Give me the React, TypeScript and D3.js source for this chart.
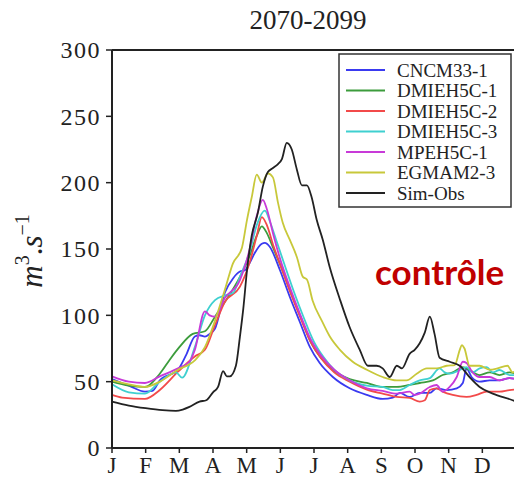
import React from "react";
import * as d3 from "d3";

const monthLabels = ["J", "F", "M", "A", "M", "J", "J", "A", "S", "O", "N", "D"];
const yTicks = [0, 50, 100, 150, 200, 250, 300];
const seriesNames = ["CNCM33-1", "DMIEH5C-1", "DMIEH5C-2", "DMIEH5C-3", "MPEH5C-1", "EGMAM2-3", "Sim-Obs"];
const seriesColors = ["#3a3af0", "#3c9c3c", "#f24a4a", "#3fd0d0", "#c83ad8", "#c8c83a", "#222222"];

// [month position, discharge m3/s]
const cncm33_1: [number, number][] = [[0,52],[0.5,47],[0.98,42.5],[1.2,43],[1.42,51],[1.96,59],[2.2,70],[2.46,84],[2.6,85],[2.76,84],[2.9,86],[3.06,90],[3.35,117],[3.6,128],[3.8,133],[3.95,134],[4.1,140],[4.24,147],[4.45,154],[4.54,154.6],[4.69,151.5],[4.99,134],[5.28,114],[5.58,95],[5.88,76],[6.17,64],[6.56,53.5],[7.06,45],[7.57,40],[8.04,37],[8.34,38],[8.55,41.5],[8.84,38.5],[9.14,41.5],[9.44,41.5],[9.64,45],[9.94,43.7],[10.24,45],[10.42,49],[10.53,60],[10.68,53.5],[10.92,50],[11.22,51],[11.51,51],[11.81,52.7],[12,52]];
const dmieh5c_1: [number, number][] = [[0,50],[0.5,47],[0.98,46],[1.42,56],[1.7,66],[2.0,76],[2.4,86],[2.76,88],[3.06,99],[3.35,110],[3.8,129],[4.09,145],[4.3,160],[4.45,167],[4.6,162],[4.8,150],[5.0,138],[5.3,118],[5.6,99],[5.9,80],[6.2,68],[6.6,58],[7.06,52],[7.57,49],[8.04,46],[8.46,46],[8.84,47.5],[9.14,49],[9.53,51],[9.82,55],[10.12,57],[10.42,61],[10.62,58.8],[10.92,55],[11.22,57],[11.51,55],[11.81,57],[12,56]];
const dmieh5c_2: [number, number][] = [[0,40],[0.3,38],[0.98,37],[1.42,43.7],[1.96,57.5],[2.46,69],[2.76,74],[3.06,92.7],[3.35,110],[3.8,121.6],[4.09,140],[4.3,160],[4.45,174],[4.6,168],[4.8,152],[5.0,138],[5.3,117],[5.6,98],[5.9,80],[6.2,68],[6.6,57],[7.06,50],[7.57,44],[8.04,41],[8.46,38.5],[8.84,37.7],[9.14,35],[9.29,36],[9.44,43.7],[9.64,45],[9.82,42.5],[10.12,40],[10.53,38.5],[10.83,40],[11.13,42.5],[11.51,42.5],[11.81,43.7],[12,44]];
const dmieh5c_3: [number, number][] = [[0,48],[0.5,42],[0.98,41],[1.42,50],[1.9,57],[2.08,53],[2.46,76],[2.76,100],[3.06,111.5],[3.35,115],[3.6,117],[3.8,129],[4.09,148],[4.3,168],[4.54,179],[4.7,170],[4.9,155],[5.1,140],[5.4,118],[5.7,98],[6.0,80],[6.3,68],[6.6,59],[7.06,51],[7.57,47],[8.04,46],[8.34,43.7],[8.55,43.7],[8.84,47.5],[9.14,51],[9.44,52.7],[9.73,60],[9.88,57],[10.03,56],[10.33,58.8],[10.53,61],[10.71,57],[10.92,60],[11.13,61],[11.31,57],[11.51,58.8],[11.81,55],[12,55]];
const mpeh5c_1: [number, number][] = [[0,54],[0.5,50],[0.98,49],[1.42,54],[1.96,60],[2.3,65],[2.46,74],[2.76,103],[2.9,100],[3.06,99],[3.35,113],[3.8,126.6],[4.09,150],[4.3,175],[4.48,187],[4.6,180],[4.8,160],[5.0,142],[5.3,120],[5.6,100],[5.9,82],[6.2,70],[6.6,59],[7.06,51],[7.57,45],[8.04,43],[8.46,41],[8.84,42.5],[8.99,40],[9.14,41],[9.44,46],[9.64,47.5],[9.82,42.5],[10.03,46],[10.24,53.5],[10.42,65],[10.53,64],[10.71,57],[10.92,53.5],[11.22,53.5],[11.51,51],[11.81,52.7],[12,52]];
const egmam2_3: [number, number][] = [[0,51],[0.5,48],[0.98,46],[1.42,50],[1.96,59],[2.46,66],[2.76,76],[3.06,96],[3.35,119],[3.59,139],[3.86,151],[4.01,172],[4.15,189],[4.3,206],[4.45,200],[4.63,207],[4.78,204],[4.93,185],[5.07,170],[5.28,157],[5.49,144],[5.67,129],[5.79,127],[5.96,111],[6.23,96],[6.47,84],[6.77,74],[7.15,65],[7.57,59],[8.04,53.5],[8.46,51],[8.75,51],[9.05,56],[9.35,60],[9.64,60],[9.94,62],[10.18,62.5],[10.33,74],[10.39,77.6],[10.47,75],[10.62,62],[10.92,62],[11.22,59],[11.45,60],[11.75,62],[11.9,57],[12,58]];
const simObs: [number, number][] = [[0,35],[0.5,32],[1.0,30],[1.5,28.5],[1.9,28],[2.1,29],[2.3,31],[2.6,35],[2.8,36],[3.0,42],[3.15,46],[3.3,58],[3.41,54],[3.5,54],[3.68,62],[3.8,84],[3.9,105],[4.01,134],[4.15,160],[4.33,177],[4.48,197],[4.63,208],[4.78,211],[4.93,214],[5.05,218],[5.19,230],[5.34,225],[5.49,210],[5.64,198],[5.79,198],[5.93,189],[6.08,172],[6.26,157],[6.47,136],[6.77,112],[7.06,91],[7.36,74],[7.6,62],[7.86,62],[8.04,60],[8.25,53.5],[8.46,62],[8.61,60],[8.84,71],[8.99,74],[9.14,79],[9.29,87],[9.44,99],[9.58,86],[9.73,68],[10.03,65],[10.33,62],[10.62,53.5],[10.92,46],[11.31,41],[11.9,36],[12,35]];

const seriesData = [cncm33_1, dmieh5c_1, dmieh5c_2, dmieh5c_3, mpeh5c_1, egmam2_3, simObs];

const W = 514, H = 481;
const left = 112, right = 516, top = 50, bottom = 448;

export default function App() {
  const x = d3.scaleLinear().domain([0, 12]).range([left, right]);
  const y = d3.scaleLinear().domain([0, 300]).range([bottom, top]);
  const line = d3.line<[number, number]>().x(d => x(d[0])).y(d => y(d[1])).curve(d3.curveMonotoneX);
  const serif = "'Liberation Serif', 'Times New Roman', serif";
  return (
    <svg width={W} height={H} style={{ position: "absolute", left: 0, top: 0, background: "#fff" }}>
      <rect x={0} y={0} width={W} height={H} fill="#fff" />
      <text x={308} y={29} textAnchor="middle" fontFamily={serif} fontSize={27} fill="#222">2070-2099</text>
      <g fill="none" strokeWidth={1.8} strokeLinejoin="round">
        {seriesData.map((s, i) => (
          <path key={i} d={line(s) || ""} stroke={seriesColors[i]} />
        ))}
      </g>
      {/* frame */}
      <line x1={left} x2={W + 10} y1={top} y2={top} stroke="#222" strokeWidth={2} />
      <line x1={left} x2={left} y1={top} y2={bottom} stroke="#222" strokeWidth={2} />
      <line x1={left} x2={W + 10} y1={bottom} y2={bottom} stroke="#222" strokeWidth={2} />
      {yTicks.map(t => (
        <g key={t}>
          <line x1={left - 6} x2={left} y1={y(t)} y2={y(t)} stroke="#222" strokeWidth={1.5} />
          <text x={left - 11} y={y(t)} dy="0.35em" textAnchor="end" fontFamily={serif} fontSize={24} letterSpacing={1.5} fill="#222">{t}</text>
        </g>
      ))}
      {monthLabels.map((m, i) => (
        <g key={i}>
          <line x1={x(i)} x2={x(i)} y1={bottom} y2={bottom + 5} stroke="#222" strokeWidth={1.5} />
          <text x={x(i)} y={473} textAnchor="middle" fontFamily={serif} fontSize={23} fill="#222">{m}</text>
        </g>
      ))}
      <text transform="translate(42,251) rotate(-90)" textAnchor="middle" fontFamily={serif} fontSize={31} fill="#222">
        <tspan fontStyle="italic">m</tspan>
        <tspan dy={-13} fontSize={20}>3</tspan>
        <tspan dy={13}>.</tspan>
        <tspan fontStyle="italic">s</tspan>
        <tspan dy={-13} fontSize={20}>−1</tspan>
      </text>
      {/* legend */}
      <rect x={339} y={54} width={172} height={153} fill="#fff" stroke="#333" strokeWidth={1.5} />
      {seriesNames.map((n, i) => (
        <g key={n}>
          <line x1={346} x2={385} y1={70 + i * 20.5} y2={70 + i * 20.5} stroke={seriesColors[i]} strokeWidth={2} />
          <text x={397} y={70 + i * 20.5} dy="0.35em" fontFamily={serif} fontSize={19} fill="#222">{n}</text>
        </g>
      ))}
      <text x={375} y={285} fontFamily="Lato, 'Open Sans', sans-serif" fontWeight="bold" fontSize={35} fill="#c00000">contrôle</text>
    </svg>
  );
}
